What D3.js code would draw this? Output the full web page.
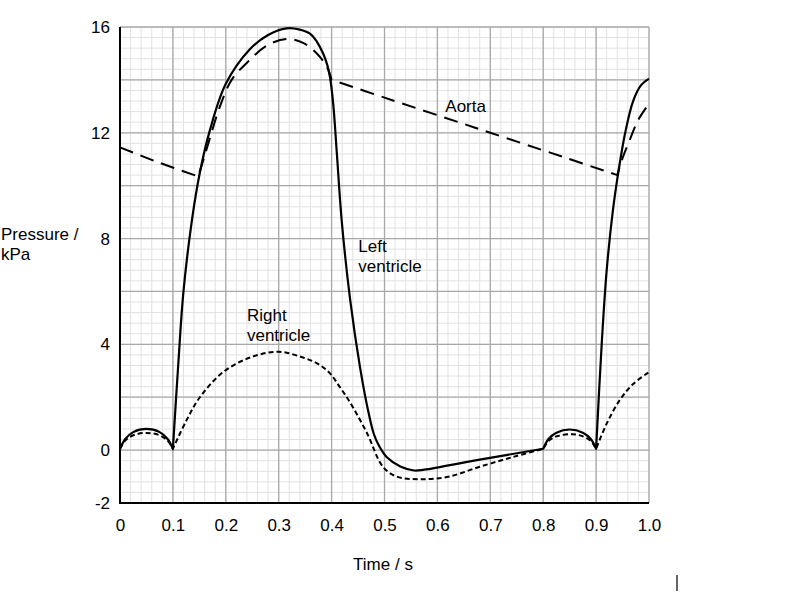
<!DOCTYPE html>
<html><head><meta charset="utf-8">
<script src="https://cdn.jsdelivr.net/npm/d3@7"></script>
<style>
html,body{margin:0;padding:0;background:#fff;}
text{font-family:"Liberation Sans",Arial,sans-serif;fill:#000;}
</style></head>
<body>
<svg id="chart" width="796" height="592"></svg>
<script>
// ---- data ----
const timeTicks = [0,0.1,0.2,0.3,0.4,0.5,0.6,0.7,0.8,0.9,1.0];
const timeTickLabels = ["0","0.1","0.2","0.3","0.4","0.5","0.6","0.7","0.8","0.9","1.0"];
const pressureTicks = [-2,0,4,8,12,16];
const pressureTickLabels = ["-2","0","4","8","12","16"];

const leftVentricle = [
  [0,0.05],[0.01,0.42],[0.025,0.68],[0.05,0.8],[0.075,0.68],[0.09,0.42],[0.1,0.05],
  [0.11,3.2],[0.12,6.0],[0.136,8.7],[0.151,10.5],[0.17,12.1],[0.2,13.85],[0.245,15.15],
  [0.28,15.7],[0.315,15.95],[0.34,15.9],[0.359,15.75],[0.372,15.45],[0.384,15.0],[0.392,14.55],
  [0.397,14.1],[0.403,13.1],
  [0.41,11.2],[0.419,8.7],[0.435,5.7],[0.454,3.1],[0.47,1.4],[0.48,0.6],[0.49,0.15],
  [0.504,-0.26],[0.53,-0.62],[0.556,-0.77],[0.575,-0.74],[0.68,-0.36],[0.8,0.05],
  [0.81,0.42],[0.825,0.66],[0.85,0.78],[0.875,0.66],[0.89,0.42],[0.9,0.05],
  [0.911,4.15],[0.92,6.8],[0.932,9.1],[0.942,10.5],[0.955,12.0],[0.97,13.2],[0.985,13.8],[1.0,14.05]
];
const rightVentricle = [
  [0,0.05],[0.01,0.36],[0.025,0.56],[0.05,0.65],[0.075,0.56],[0.09,0.36],[0.1,0.05],
  [0.125,1.1],[0.151,2.0],[0.195,2.95],[0.246,3.5],[0.299,3.72],[0.346,3.5],[0.375,3.25],
  [0.397,2.9],[0.415,2.4],[0.435,1.8],[0.467,0.64],[0.497,-0.63],[0.523,-1.0],[0.567,-1.1],
  [0.618,-1.02],[0.68,-0.63],[0.743,-0.26],[0.8,0.05],
  [0.81,0.34],[0.825,0.52],[0.855,0.6],[0.875,0.52],[0.89,0.34],[0.9,0.05],
  [0.92,1.0],[0.945,1.9],[0.97,2.5],[1.0,2.95]
];
const aorta = [
  [0,11.45],[0.07,10.9],[0.148,10.35],[0.158,11.0],[0.167,11.6],[0.189,13.0],[0.211,14.0],
  [0.24,14.65],[0.278,15.3],[0.315,15.55],[0.346,15.4],[0.372,15.0],[0.391,14.5],[0.4,14.0],
  [0.5,13.33],[0.67,12.2],[0.84,11.07],[0.94,10.4],[0.951,11.1],[0.963,11.7],[0.98,12.5],[1.0,13.1]
];
// times at which each trace has a sharp corner
const leftVentricleCorners = [0.1,0.8,0.9];
const rightVentricleCorners = [0.1,0.8,0.9];
const aortaCorners = [0.148,0.4,0.94];

const seriesLabels = [
  {text:["Aorta"], t:0.615, p:12.8},
  {text:["Left","ventricle"], t:0.4505, p:7.5},
  {text:["Right","ventricle"], t:0.240, p:4.9}
];

// ---- drawing ----
const svg = d3.select("#chart");
const x = d3.scaleLinear().domain([0,1]).range([120,649]);
const y = d3.scaleLinear().domain([-2,16]).range([503,27]);

const grid = svg.append("g");
const minorX = d3.range(0,51).map(i=>i*0.02);
const minorY = d3.range(0,46).map(i=>-2+i*0.4);
grid.selectAll(".mx").data(minorX).join("line")
  .attr("x1",d=>x(d)).attr("x2",d=>x(d)).attr("y1",y(-2)).attr("y2",y(16))
  .attr("stroke","#e2e2e2").attr("stroke-width",1);
grid.selectAll(".my").data(minorY).join("line")
  .attr("y1",d=>y(d)).attr("y2",d=>y(d)).attr("x1",x(0)).attr("x2",x(1))
  .attr("stroke","#e2e2e2").attr("stroke-width",1);
const majorX = d3.range(0,11).map(i=>i*0.1);
const majorY = d3.range(0,10).map(i=>-2+i*2);
grid.selectAll(".Mx").data(majorX).join("line")
  .attr("x1",d=>x(d)).attr("x2",d=>x(d)).attr("y1",y(-2)).attr("y2",y(16))
  .attr("stroke","#a8a8a8").attr("stroke-width",1.3);
grid.selectAll(".My").data(majorY).join("line")
  .attr("y1",d=>y(d)).attr("y2",d=>y(d)).attr("x1",x(0)).attr("x2",x(1))
  .attr("stroke","#a8a8a8").attr("stroke-width",1.3);

const line = d3.line().x(d=>x(d[0])).y(d=>y(d[1])).curve(d3.curveCatmullRom.alpha(0.5));
// smooth segments joined at sharp corners, as one continuous subpath
function tracePath(data, corners){
  const segs = [];
  let cur = [];
  data.forEach(d=>{
    cur.push(d);
    if (corners.some(c=>Math.abs(c-d[0])<1e-9)) { segs.push(cur); cur=[d]; }
  });
  if (cur.length>1) segs.push(cur);
  return segs.map((s,i)=>{
    const p = line(s);
    return i===0 ? p : "L"+p.slice(1);
  }).join("");
}

svg.append("path").attr("d",tracePath(aorta,aortaCorners)).attr("fill","none")
  .attr("stroke","#000").attr("stroke-width",2).attr("stroke-dasharray","14,8");
svg.append("path").attr("d",tracePath(rightVentricle,rightVentricleCorners)).attr("fill","none")
  .attr("stroke","#000").attr("stroke-width",2).attr("stroke-dasharray","5,3");
svg.append("path").attr("d",tracePath(leftVentricle,leftVentricleCorners)).attr("fill","none")
  .attr("stroke","#000").attr("stroke-width",2.2).attr("stroke-linejoin","round");

svg.append("line").attr("x1",x(0)).attr("x2",x(0)).attr("y1",y(16)).attr("y2",y(-2)+1)
  .attr("stroke","#000").attr("stroke-width",2);
svg.append("line").attr("x1",x(0)-1).attr("x2",x(1)).attr("y1",y(-2)).attr("y2",y(-2))
  .attr("stroke","#000").attr("stroke-width",2);

const xAxis = d3.axisBottom(x).tickValues(timeTicks).tickSize(0).tickPadding(16)
  .tickFormat((d,i)=>timeTickLabels[i]);
const gx = svg.append("g").attr("transform",`translate(0,${y(-2)})`).call(xAxis);
gx.select(".domain").remove();
gx.selectAll("text").attr("font-size",17).style("font-family","'Liberation Sans',Arial,sans-serif").attr("fill","#000");

const yAxis = d3.axisLeft(y).tickValues(pressureTicks).tickSize(0).tickPadding(10)
  .tickFormat((d,i)=>pressureTickLabels[i]);
const gy = svg.append("g").attr("transform",`translate(${x(0)},0)`).call(yAxis);
gy.select(".domain").remove();
gy.selectAll("text").attr("font-size",17).style("font-family","'Liberation Sans',Arial,sans-serif").attr("fill","#000");

const yt = svg.append("text").attr("x",1).attr("y",240).attr("font-size",17);
yt.append("tspan").attr("x",1).attr("y",240).text("Pressure /");
yt.append("tspan").attr("x",1).attr("y",260).text("kPa");
svg.append("text").attr("x",383).attr("y",570).attr("text-anchor","middle")
  .attr("font-size",17).text("Time / s");

seriesLabels.forEach(l=>{
  const t = svg.append("text").attr("font-size",17);
  l.text.forEach((s,i)=>{
    t.append("tspan").attr("x",x(l.t)).attr("y",y(l.p)+i*20.5).text(s);
  });
});

svg.append("line").attr("x1",677).attr("x2",677).attr("y1",575).attr("y2",591)
  .attr("stroke","#333").attr("stroke-width",1.5);
</script>
</body></html>
